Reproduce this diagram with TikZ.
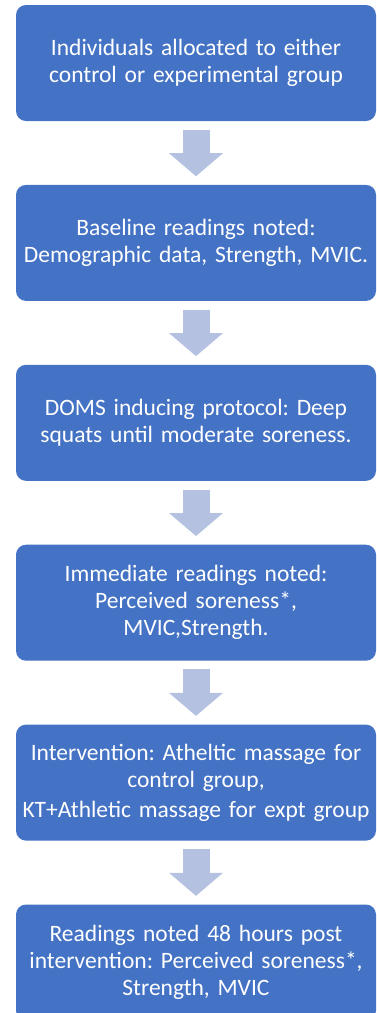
\documentclass[tikz,border=0pt]{standalone}
\usepackage{fontspec}
\setmainfont{Carlito}
\frenchspacing
\usetikzlibrary{arrows.meta,positioning}
\definecolor{ddhhww}{rgb}{0.267,0.447,0.769}
\definecolor{ttuuxx}{rgb}{0.706,0.757,0.882}

\begin{document}
\begin{tikzpicture}[line cap=round,line join=round,x=1pt,y=-1pt,
  box/.style={fill=ddhhww,rounded corners=10pt,minimum width=360pt,minimum height=116pt,
    text width=354pt,align=center,text=white,inner sep=0pt,
    font=\fontsize{23.5}{27}\selectfont},
  blockarrow/.style={draw=ttuuxx,line width=27pt,line cap=butt,shorten <=8.5pt,shorten >=8.5pt,
    -{Triangle[length=23pt,width=54pt,line width=0pt]}},
  node distance=63.5pt]
\useasboundingbox (0,0) rectangle (377,1013);
% steps of the protocol
\node[box] (alloc) at (196,63) {Individuals allocated to either\\control or experimental group};
\node[box,below=of alloc] (base) {Baseline readings noted:\\Demographic data, Strength, MVIC.};
\node[box,below=of base] (doms) {DOMS inducing protocol: Deep\\squats until moderate soreness.};
\node[box,below=of doms] (immed) {Immediate readings noted:\\Perceived soreness*,\\MVIC,Strength.};
\node[box,below=of immed] (interv) {Intervention: Atheltic massage for\\control group,\\[3pt]KT+Athletic massage for expt group};
\node[box,below=of interv] (post) {Readings noted 48 hours post\\intervention: Perceived soreness*,\\Strength, MVIC};
% arrows between them
\draw[blockarrow] (alloc) -- (base);
\draw[blockarrow] (base) -- (doms);
\draw[blockarrow] (doms) -- (immed);
\draw[blockarrow] (immed) -- (interv);
\draw[blockarrow] (interv) -- (post);
\end{tikzpicture}
\end{document}
